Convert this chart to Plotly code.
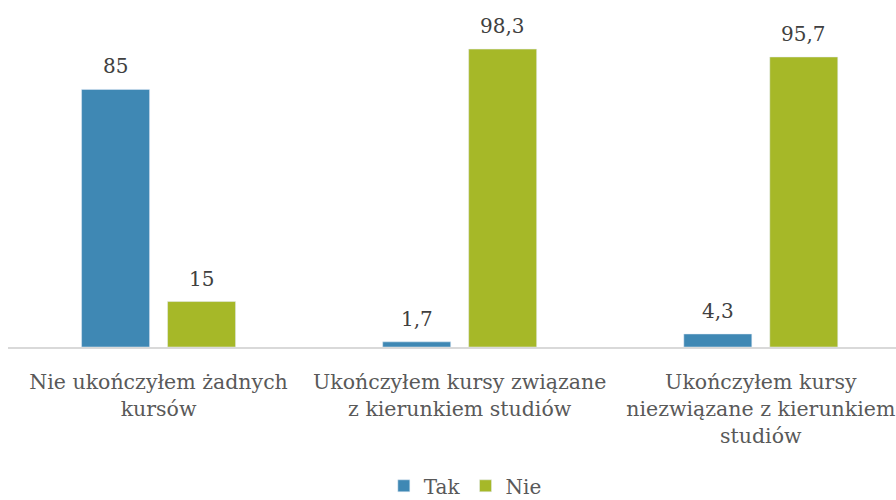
import plotly.graph_objects as go

categories = [
    "Nie ukończyłem żadnych<br>kursów",
    "Ukończyłem kursy związane<br>z kierunkiem studiów",
    "Ukończyłem kursy<br>niezwiązane z kierunkiem<br>studiów",
]
tak_values = [85, 1.7, 4.3]
nie_values = [15, 98.3, 95.7]

FONT = "DejaVu Serif"
series = [("Tak", tak_values, "#3F88B4", -43), ("Nie", nie_values, "#A6B828", 43)]

fig = go.Figure()
for name, vals, color, shift in series:
    fig.add_trace(go.Bar(name=name, x=categories, y=vals, marker_color=color))
    for c, v in zip(categories, vals):
        fig.add_annotation(
            x=c, y=v, text=f"{v:g}".replace(".", ","), showarrow=False,
            xshift=shift, yshift=23, yanchor="middle",
            font=dict(family=FONT, size=20, color="#404040"),
        )

fig.update_layout(
    width=896, height=500,
    margin=dict(l=8, r=0, t=0, b=153, autoexpand=False),
    barmode="group", bargap=0.429, bargroupgap=0.209,
    plot_bgcolor="white", paper_bgcolor="white",
    font=dict(family=FONT, size=20, color="#595959"),
    showlegend=True,
    legend=dict(orientation="h", x=0.515, xanchor="center", y=-0.40, yanchor="middle",
                font=dict(family=FONT, size=20, color="#595959")),
)
fig.update_xaxes(
    range=[-0.5, 2.449], showline=True, linecolor="#D9D9D9", linewidth=1.5,
    ticks="", tickfont=dict(family=FONT, size=20.5, color="#595959"),
    ticklabelstandoff=16, automargin=False,
    showgrid=False, zeroline=False,
)
fig.update_yaxes(range=[0, 114.5], visible=False, showgrid=False, zeroline=False,
                 automargin=False)

fig.write_html("out.html", config={"displayModeBar": False},
               post_script="document.body.style.margin='0';")
